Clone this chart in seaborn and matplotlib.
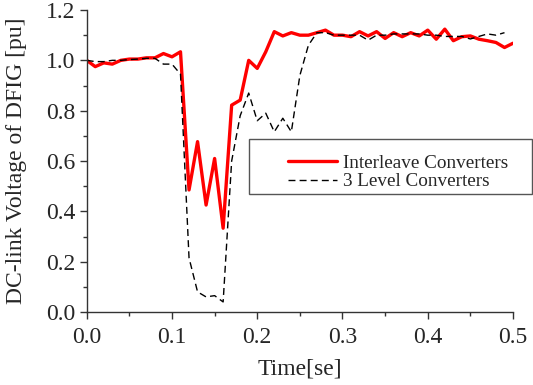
import matplotlib
matplotlib.use('Agg')
import matplotlib.pyplot as plt
from matplotlib.patches import Rectangle
from matplotlib.ticker import MultipleLocator
import numpy as np
import pandas as pd
import seaborn as sns

# sample times (s)
timeInterleave = [0.00, 0.01, 0.02, 0.03, 0.04, 0.05, 0.06, 0.07, 0.08, 0.09,
                  0.10, 0.11, 0.12, 0.13, 0.14, 0.15, 0.16, 0.17, 0.18, 0.19,
                  0.20, 0.21, 0.22, 0.23, 0.24, 0.25, 0.26, 0.27, 0.28, 0.29,
                  0.30, 0.31, 0.32, 0.33, 0.34, 0.35, 0.36, 0.37, 0.38, 0.39,
                  0.40, 0.41, 0.42, 0.43, 0.44, 0.45, 0.46, 0.47, 0.48, 0.49,
                  0.50]
timeThreeLevel = timeInterleave[:-1]

# DC-link voltage [pu]
vInterleave = [1.000, 0.975, 0.990, 0.985, 1.000, 1.005, 1.005, 1.010, 1.010, 1.027,
               1.014, 1.034, 0.485, 0.677, 0.425, 0.610, 0.333, 0.822, 0.842, 1.000,
               0.968, 1.034, 1.114, 1.097, 1.110, 1.100, 1.100, 1.110, 1.120, 1.100,
               1.100, 1.094, 1.114, 1.097, 1.114, 1.087, 1.110, 1.094, 1.110, 1.097,
               1.120, 1.084, 1.124, 1.078, 1.094, 1.097, 1.084, 1.078, 1.071, 1.051,
               1.068]
vThreeLevel = [1.000, 0.995, 0.995, 1.000, 1.000, 1.003, 1.005, 1.008, 1.008, 0.985,
               0.985, 0.945, 0.215, 0.080, 0.060, 0.065, 0.040, 0.600, 0.780, 0.870,
               0.760, 0.790, 0.716, 0.770, 0.716, 0.940, 1.060, 1.110, 1.110, 1.100,
               1.100, 1.100, 1.100, 1.080, 1.100, 1.100, 1.105, 1.105, 1.105, 1.105,
               1.100, 1.100, 1.095, 1.095, 1.095, 1.085, 1.095, 1.105, 1.100, 1.110]

labels = ['Interleave Converters', '3 Level Converters']

sns.set_style('ticks')
plt.rcParams['font.family'] = ['Liberation Serif', 'DejaVu Serif']

fig = plt.figure(figsize=(5.33, 3.85), dpi=100)
ax = fig.add_axes([0.1627, 0.1896, 0.7998, 0.7844])

dfI = pd.DataFrame({'t': timeInterleave, 'v': vInterleave})
dfT = pd.DataFrame({'t': timeThreeLevel, 'v': vThreeLevel})

sns.lineplot(data=dfI, x='t', y='v', ax=ax, color='#ff0000', linewidth=2.4,
             label=labels[0])
sns.lineplot(data=dfT, x='t', y='v', ax=ax, color='black', linewidth=1.0,
             linestyle=(0, (5, 3)), label=labels[1])

ax.set_xlim(0, 0.5)
ax.set_ylim(0, 1.2)
ax.xaxis.set_major_locator(MultipleLocator(0.1))
ax.xaxis.set_minor_locator(MultipleLocator(0.05))
ax.yaxis.set_major_locator(MultipleLocator(0.2))
ax.yaxis.set_minor_locator(MultipleLocator(0.1))
ax.xaxis.set_major_formatter(matplotlib.ticker.FormatStrFormatter('%.1f'))
ax.yaxis.set_major_formatter(matplotlib.ticker.FormatStrFormatter('%.1f'))
ax.tick_params(which='major', length=5, width=1, color='#333333', labelsize=17)
ax.tick_params(axis='x', which='major', pad=5.5)
ax.tick_params(axis='y', which='major', pad=3)
ax.tick_params(which='minor', length=3, width=1, color='#333333')
sns.despine(ax=ax)
for s in ['left', 'bottom']:
    ax.spines[s].set_color('#333333')
    ax.spines[s].set_linewidth(1)

ax.set_xlabel('Time[se]', fontsize=17, labelpad=8)
ax.set_ylabel('DC-link Voltage of DFIG [pu]', fontsize=17, labelpad=14)

leg = ax.legend(loc='upper left', bbox_to_anchor=(278 / 533, 1 - 145 / 385),
                bbox_transform=fig.transFigure, frameon=False, fontsize=13.8,
                handlelength=2.6, handletextpad=0.3, borderpad=0, labelspacing=0.05)
fig.patches.append(Rectangle((249.3 / 533, 1 - 194.3 / 385), 283 / 533, 55 / 385,
                             transform=fig.transFigure, fill=False,
                             edgecolor='#555555', linewidth=1.0))

fig.savefig('out.png', dpi=100)
